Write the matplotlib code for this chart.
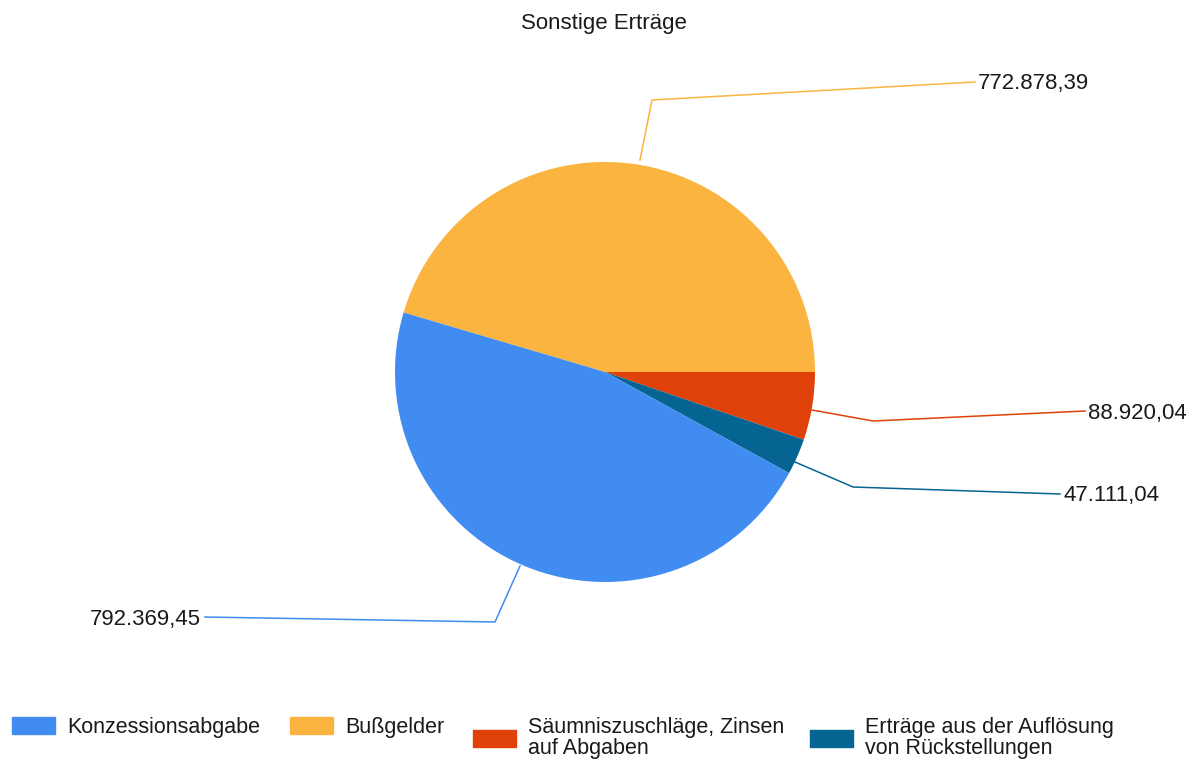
import matplotlib.pyplot as plt
from matplotlib.patches import Rectangle

plt.rcParams['font.family'] = ['Liberation Sans', 'DejaVu Sans']

# data
labels = ['Konzessionsabgabe', 'Bußgelder',
          'Säumniszuschläge, Zinsen\nauf Abgaben',
          'Erträge aus der Auflösung\nvon Rückstellungen']
values = [792369.45, 772878.39, 88920.04, 47111.04]
colors = ['#418CF0', '#FCB441', '#E0400A', '#056492']

H = 762

def de(v):
    s = f"{v:,.2f}"
    return s.replace(',', 'X').replace('.', ',').replace('X', '.')

fig = plt.figure(figsize=(11.94, 7.62), dpi=100)
ax = fig.add_axes([0, 0, 1, 1])

# drawing order on screen: Bußgelder, Säumnis, Erträge, Konzession (clockwise)
order = [1, 2, 3, 0]
total = sum(values)
start = 360 * values[1] / total
ax.pie([values[i] for i in order], colors=[colors[i] for i in order],
       center=(605, H - 372), radius=210, startangle=start,
       counterclock=False, frame=True,
       wedgeprops=dict(linewidth=0))
ax.set_xlim(0, 1194)
ax.set_ylim(0, H)
ax.set_aspect('equal')
ax.axis('off')

# leader lines (pixel layout) and value labels
leaders = {
    1: ([640, 652, 975], [160, 100, 82], (978, 84), 'left'),
    2: ([812, 873, 1085], [410, 421, 411], (1088, 413), 'left'),
    3: ([795, 853, 1060], [462, 487, 494], (1063, 496), 'left'),
    0: ([520, 495, 205], [566, 622, 617], (201, 619), 'right'),
}
for i, (xs, ys, (tx, ty), ha) in leaders.items():
    ax.plot(xs, [H - y for y in ys], color=colors[i], lw=1.1)
    ax.text(tx, H - ty, de(values[i]), ha=ha, va='center', fontsize=16,
            color='#1a1a1a')

ax.text(604, H - 24, 'Sonstige Erträge', ha='center', va='center',
        fontsize=16, color='#1a1a1a')

# legend, one entry per box so that the entries are top aligned
leg_x = [12, 290, 473, 810]
for i in range(4):
    lg = ax.legend([Rectangle((0, 0), 1, 1, color=colors[i])], [labels[i]],
                   loc='upper left', bbox_to_anchor=(leg_x[i] / 1194, (H - 717) / H),
                   frameon=False, fontsize=15.5, handlelength=2.0, handleheight=0.8,
                   handletextpad=0.55, borderpad=0, borderaxespad=0,
                   labelspacing=0.1, labelcolor='#1a1a1a')
    for t in lg.get_texts():
        t.set_linespacing(1.0)
    if i < 3:
        ax.add_artist(lg)

fig.savefig('out.png', dpi=100)
